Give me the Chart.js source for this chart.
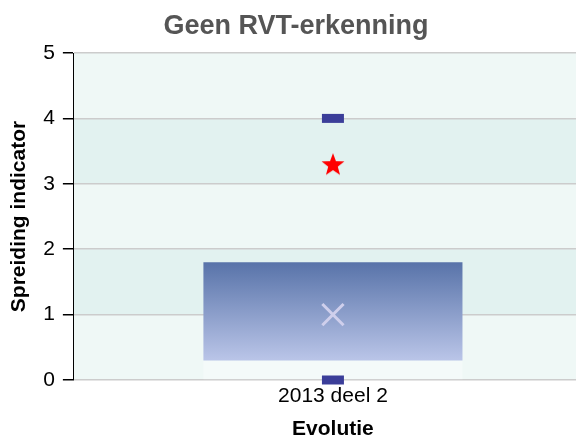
<!DOCTYPE html>
<html>
<head>
<meta charset="utf-8">
<script src="https://cdn.jsdelivr.net/npm/chart.js@4/dist/chart.umd.min.js"></script>
<style>
  html, body { margin: 0; padding: 0; background: #fff; overflow: hidden; width: 576px; height: 436px; }
  #wrap { width: 592px; height: 442px; }
</style>
</head>
<body>
<div id="wrap"><canvas id="c" width="592" height="442"></canvas></div>
<script>
const categories = ['2013 deel 2'];
const minValues = [0];
const q1Values = [0.3];
const q3Values = [1.8];
const maxValues = [4];
const meanValues = [1];
const ownValues = [3.3];
const yTicks = [0, 1, 2, 3, 4, 5];

const FONT = "'Liberation Sans', Arial, Helvetica, sans-serif";

function makeStar(size, color) {
  const c = document.createElement('canvas');
  c.width = size; c.height = size;
  const g = c.getContext('2d');
  const cx = size / 2, cy = size / 2 + 1, R = size / 2, r = R * 0.42;
  g.beginPath();
  for (let i = 0; i < 10; i++) {
    const a = -Math.PI / 2 + i * Math.PI / 5;
    const rad = i % 2 === 0 ? R : r;
    const px = cx + rad * Math.cos(a), py = cy + rad * Math.sin(a);
    if (i === 0) g.moveTo(px, py); else g.lineTo(px, py);
  }
  g.closePath();
  g.fillStyle = color;
  g.fill();
  return c;
}
const starImg = makeStar(24, '#ff0000');

const bandPlugin = {
  id: 'bands',
  beforeDraw(chart) {
    const { ctx, chartArea: a, scales: { y } } = chart;
    if (!a) return;
    ctx.save();
    ctx.fillStyle = '#eff8f6';
    ctx.fillRect(a.left, a.top, a.right - a.left, a.bottom - a.top);
    ctx.fillStyle = '#e2f2f0';
    for (let i = 0; i < yTicks.length - 1; i++) {
      if (i % 2 === 1) {
        const t = y.getPixelForValue(yTicks[i + 1]);
        const b = y.getPixelForValue(yTicks[i]);
        ctx.fillRect(a.left, t, a.right - a.left, b - t);
      }
    }
    ctx.restore();
  }
};

function boxGradient(context) {
  const chart = context.chart;
  const y = chart.scales.y;
  if (!chart.chartArea || !y) return '#7f95c4';
  const i = context.dataIndex || 0;
  const top = y.getPixelForValue(q3Values[i]);
  const bot = y.getPixelForValue(q1Values[i]);
  const g = chart.ctx.createLinearGradient(0, top, 0, bot);
  g.addColorStop(0, '#5873a9');
  g.addColorStop(1, '#bac5e8');
  return g;
}

new Chart(document.getElementById('c'), {
  data: {
    labels: categories,
    datasets: [
      {
        type: 'line', label: 'max', data: maxValues, showLine: false,
        pointStyle: 'line', pointRadius: 11, pointBorderWidth: 9,
        pointBorderColor: '#3b3e99', pointBackgroundColor: '#3b3e99',
        clip: false, order: 1
      },
      {
        type: 'line', label: 'min', data: minValues, showLine: false,
        pointStyle: 'line', pointRadius: 11, pointBorderWidth: 9,
        pointBorderColor: '#3b3e99', pointBackgroundColor: '#3b3e99',
        clip: false, order: 1
      },
      {
        type: 'line', label: 'gemiddelde', data: meanValues, showLine: false,
        pointStyle: 'crossRot', pointRadius: 15, pointBorderWidth: 3,
        pointBorderColor: '#cfcfec', clip: false, order: 1
      },
      {
        type: 'line', label: 'eigen waarde', data: ownValues, showLine: false,
        pointStyle: starImg, pointRadius: 12, clip: false, order: 1
      },
      {
        type: 'bar', label: 'box', data: categories.map((c, i) => [q1Values[i], q3Values[i]]),
        backgroundColor: boxGradient, borderWidth: 0, grouped: false,
        barPercentage: 0.5, categoryPercentage: 1, order: 2
      },
      {
        type: 'bar', label: 'onder', data: categories.map((c, i) => [minValues[i], q1Values[i]]),
        backgroundColor: 'rgba(255,255,255,0.35)', borderWidth: 0, grouped: false,
        barPercentage: 0.5, categoryPercentage: 1, order: 3
      }
    ]
  },
  options: {
    responsive: false,
    animation: false,
    events: [],
    layout: { autoPadding: false, padding: { left: 0, right: 0, top: 0, bottom: 0 } },
    plugins: {
      legend: { display: false },
      tooltip: { enabled: false },
      title: {
        display: true, text: 'Geen RVT-erkenning', color: '#555555',
        font: { family: FONT, size: 27, weight: 'bold' },
        padding: { top: 10, bottom: 10.6 }
      }
    },
    scales: {
      x: {
        type: 'category',
        offset: true,
        afterFit: (s) => { s.paddingLeft = 0; s.paddingRight = 0; },
        grid: { display: false, drawTicks: false },
        border: { display: false },
        ticks: { color: '#000', font: { family: FONT, size: 21 }, padding: 4 },
        title: {
          display: true, text: 'Evolutie', color: '#000',
          font: { family: FONT, size: 21, weight: 'bold' }, padding: { top: 3.6, bottom: 0 }
        }
      },
      y: {
        min: 0, max: 5,
        afterBuildTicks: (s) => { s.ticks = yTicks.map(v => ({ value: v })); },
        grid: { color: '#cccccc', lineWidth: 1.5, tickColor: '#000000', tickLength: 11, drawTicks: true },
        border: { display: true, color: '#000000', width: 1 },
        ticks: { color: '#000', font: { family: FONT, size: 21 }, padding: 8 },
        title: {
          display: true, text: 'Spreiding indicator', color: '#000',
          font: { family: FONT, size: 21, weight: 'bold' }, padding: { top: 7, bottom: 3 }
        }
      }
    }
  },
  plugins: [bandPlugin]
});
</script>
</body>
</html>
